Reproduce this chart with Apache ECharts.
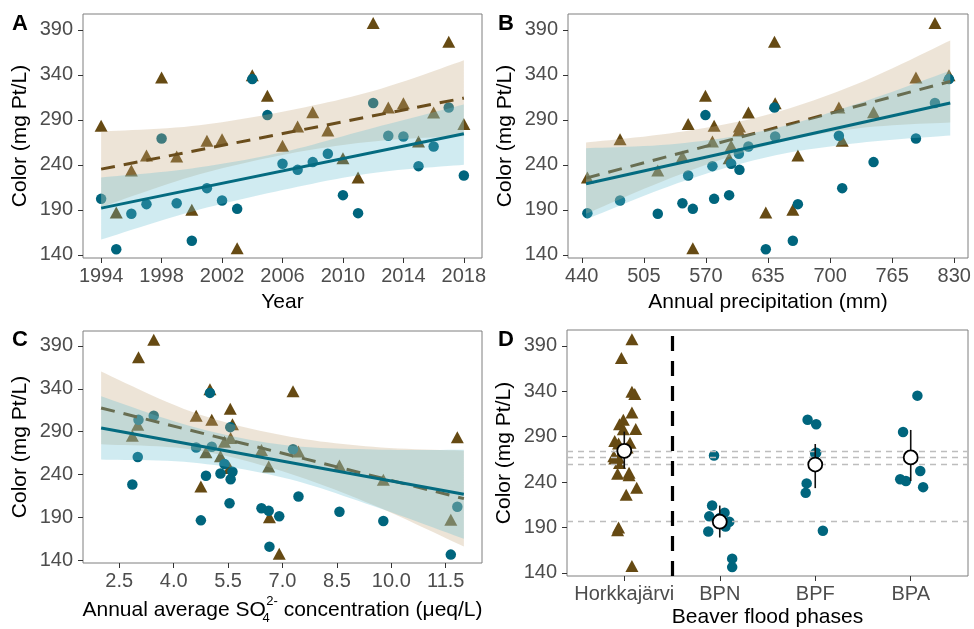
<!DOCTYPE html>
<html>
<head>
<meta charset="utf-8">
<script src="https://cdn.jsdelivr.net/npm/echarts@6/dist/echarts.min.js"></script>
<style>
html, body {margin: 0; padding: 0; background: #fff;}
#main {width: 974px; height: 629px;}
</style>
</head>
<body>
<div id="main"></div>
<script>
// yearly data
var years = [1994, 1995, 1996, 1997, 1998, 1999, 2000, 2001, 2002, 2003, 2004, 2005, 2006,
             2007, 2008, 2009, 2010, 2011, 2012, 2013, 2014, 2015, 2016, 2017, 2018];
var beaverColor = [202.2, 146.3, 185.6, 196.3, 269.3, 197.4, 155.6, 214.1, 200.4, 191.1, 335.2, 295.2, 241.1,
                   234.4, 243.0, 252.2, 206.3, 186.3, 308.6, 272.2, 271.5, 238.5, 260.3, 303.7, 228.1];
var horkColor = [283.3, 187.0, 233.7, 250.3, 337.0, 249.2, 190.0, 266.7, 268.5, 147.4, 339.6, 316.7, 261.1,
                 282.6, 298.5, 278.1, 247.4, 225.9, 397.4, 303.7, 308.5, 265.9, 298.1, 376.7, 285.2];
var precip = [578.6, 632.7, 519.6, 666.3, 789.9, 545.4, 661.0, 712.7, 480.1, 556.3, 824.5, 569.5, 596.4,
              605.1, 745.5, 604.5, 594.3, 445.9, 809.8, 709.2, 642.5, 576.8, 614.5, 641.8, 551.4];
var so4 = [11.82, 11.64, 9.78, 8.57, 7.29, 6.62, 6.64, 7.44, 6.42, 6.91, 5.00, 5.56, 5.29,
           5.57, 5.62, 5.40, 5.54, 4.75, 3.45, 5.05, 4.62, 4.89, 3.01, 3.03, 2.86];

// panel D: jittered positions (1 = Horkkajarvi, 2 = BPN, 3 = BPF, 4 = BPA)
var horkPos = [1.06, 0.93, 1.13, 1.05, 1.11, 0.93, 0.94, 0.94, 0.89, 1.08, 1.08, 1.08, 0.95,
               0.94, 1.12, 1.03, 1.05, 1.02, 1.08, 0.95, 0.99, 0.90, 0.99, 0.97, 0.90];
var beaverPos = [1.89, 2.13, 1.88, 2.10, 1.94, 2.02, 2.13, 1.92, 2.00, 2.06, 4.07, 3.92, 3.95,
                 4.13, 3.89, 4.10, 2.05, 3.08, 2.92, 3.01, 3.00, 2.91, 3.00, 3.01, 2.90];
var phaseNames = ['Horkkajärvi', 'BPN', 'BPF', 'BPA'];
var phaseMean = [274.4, 196.3, 259.3, 267.1];
var phaseLow = [254.9, 178.9, 233.3, 241.1];
var phaseHigh = [295.6, 214.1, 281.9, 297.4];

// fitted lines and confidence bands
var fitXA = [1994, 2018], horkFitA = [235.2, 314.1], beavFitA = [191.9, 274.4];
var bandXA = [1994, 2000, 2006, 2012, 2018];
var horkLoA = [193, 227, 251, 266, 272], horkHiA = [277, 283, 299, 322, 356];
var beavLoA = [157, 188, 212, 231, 240], beavHiA = [226, 236, 254, 281, 307];

var fitXB = [444.5, 825.8], horkFitB = [225.2, 332.6], beavFitB = [218.9, 308.6];
var bandXB = [444.5, 540, 635, 730, 825.8];
var horkLoB = [185.6, 228.1, 261.8, 280.6, 287.1], horkHiB = [264.8, 276.1, 295.8, 330.6, 378.1];
var beavLoB = [179.4, 219.4, 248.8, 264.3, 272.6], beavHiB = [258.4, 263.4, 278.8, 308.3, 344.6];

var fitXC = [2, 12], horkFitC = [317.6, 211.7], beavFitC = [294.3, 216.7];
var bandXC = [2, 4.5, 7, 9.5, 12];
var horkLoC = [275.1, 269.1, 243.6, 204.2, 155.7], horkHiC = [360.1, 313.1, 285.6, 272.2, 267.7];
var beavLoC = [257.3, 253.9, 236.5, 203.1, 164.7], beavHiC = [331.3, 295.9, 274.5, 269.1, 268.7];

// tick labels
var colorTicks = [140, 190, 240, 290, 340, 390];
var yearTicks = [1994, 1998, 2002, 2006, 2010, 2014, 2018];
var precipTicks = [440, 505, 570, 635, 700, 765, 830];
var so4Ticks = [2.5, 4.0, 5.5, 7.0, 8.5, 10.0, 11.5];
var phaseTicks = [1, 2, 3, 4];

var FONT = '"Liberation Sans", Arial, sans-serif';
var TEAL = '#00657d', TEAL_LINE = '#046b80', BROWN = '#664a13', BROWN_LINE = '#6a4d1c';
var BAND_BROWN = 'rgba(200,170,130,0.32)', BAND_BLUE = 'rgba(100,190,210,0.30)';

function pairs(xs, ys) {
    return xs.map(function (x, i) { return [x, ys[i]]; });
}

function xAxisFor(i, min, max, ticks, name, gap, fmt) {
    return {
        type: 'value', gridIndex: i, min: min, max: max,
        name: name, nameLocation: 'middle', nameGap: gap,
        nameTextStyle: {fontSize: 21, color: '#000', fontFamily: FONT},
        axisLine: {show: false},
        axisTick: {show: true, length: 5, lineStyle: {color: '#333'}, customValues: ticks},
        axisLabel: {customValues: ticks, fontSize: 20, color: '#4d4d4d', fontFamily: FONT,
                    margin: 8, formatter: fmt},
        splitLine: {show: false}
    };
}

function yAxisFor(i) {
    return {
        type: 'value', gridIndex: i, min: 136.5, max: 407.5,
        name: 'Color (mg Pt/L)', nameLocation: 'middle', nameGap: 52,
        nameTextStyle: {fontSize: 21, color: '#000', fontFamily: FONT},
        axisLine: {show: false},
        axisTick: {show: true, length: 5, lineStyle: {color: '#333'}, customValues: colorTicks},
        axisLabel: {customValues: colorTicks, fontSize: 20, color: '#4d4d4d', fontFamily: FONT,
                    margin: 10, formatter: function (v) { return String(v); }},
        splitLine: {show: false}
    };
}

function gridAt(left, top, width, height) {
    return {left: left, top: top, width: width, height: height, containLabel: false,
            outerBoundsMode: 'none', show: true, borderColor: '#7f7f7f', borderWidth: 1,
            backgroundColor: 'transparent'};
}

function scatter(i, xs, ys, shape, color, size) {
    return {type: 'scatter', xAxisIndex: i, yAxisIndex: i, z: 1, silent: true,
            symbol: shape, symbolSize: size, itemStyle: {color: color, opacity: 1},
            data: pairs(xs, ys)};
}

// smooth curve through pixel points (Catmull-Rom drawn as sampled bezier)
function smoothPts(p) {
    var out = [p[0]];
    for (var k = 0; k < p.length - 1; k++) {
        var p0 = p[Math.max(k - 1, 0)], p1 = p[k], p2 = p[k + 1], p3 = p[Math.min(k + 2, p.length - 1)];
        var c1 = [p1[0] + (p2[0] - p0[0]) / 6, p1[1] + (p2[1] - p0[1]) / 6];
        var c2 = [p2[0] - (p3[0] - p1[0]) / 6, p2[1] - (p3[1] - p1[1]) / 6];
        for (var s = 1; s <= 12; s++) {
            var t = s / 12, u = 1 - t;
            out.push([
                u * u * u * p1[0] + 3 * u * u * t * c1[0] + 3 * u * t * t * c2[0] + t * t * t * p2[0],
                u * u * u * p1[1] + 3 * u * u * t * c1[1] + 3 * u * t * t * c2[1] + t * t * t * p2[1]
            ]);
        }
    }
    return out;
}

function band(i, xs, lo, hi, color, z) {
    return {type: 'custom', xAxisIndex: i, yAxisIndex: i, z: z, silent: true,
        data: [[xs[0], lo[0]]],
        renderItem: function (params, api) {
            var up = xs.map(function (x, k) { return api.coord([x, hi[k]]); });
            var dn = xs.map(function (x, k) { return api.coord([x, lo[k]]); }).reverse();
            var pts = smoothPts(up).concat(smoothPts(dn));
            return {type: 'polygon', shape: {points: pts}, style: {fill: color, stroke: null}};
        }};
}

function fit(i, xs, ys, color, dash, z) {
    return {type: 'line', xAxisIndex: i, yAxisIndex: i, z: z, silent: true, symbol: 'none',
            lineStyle: {color: color, width: 3, type: dash ? [14, 9] : 'solid'},
            data: pairs(xs, ys)};
}

function panel(i, xs, lineX, bands, fits) {
    return [
        scatter(i, xs, horkColor, 'triangle', BROWN, [13, 12]),
        scatter(i, xs, beaverColor, 'circle', TEAL, 10.5),
        band(i, bands.x, bands.hLo, bands.hHi, BAND_BROWN, 2),
        fit(i, lineX, fits.h, BROWN_LINE, true, 3),
        band(i, bands.x, bands.bLo, bands.bHi, BAND_BLUE, 4),
        fit(i, lineX, fits.b, TEAL_LINE, false, 5)
    ];
}

var series = [];
series = series.concat(panel(0, years, fitXA,
    {x: bandXA, hLo: horkLoA, hHi: horkHiA, bLo: beavLoA, bHi: beavHiA}, {h: horkFitA, b: beavFitA}));
series = series.concat(panel(1, precip, fitXB,
    {x: bandXB, hLo: horkLoB, hHi: horkHiB, bLo: beavLoB, bHi: beavHiB}, {h: horkFitB, b: beavFitB}));
series = series.concat(panel(2, so4, fitXC,
    {x: bandXC, hLo: horkLoC, hHi: horkHiC, bLo: beavLoC, bHi: beavHiC}, {h: horkFitC, b: beavFitC}));

// panel D
var dTri = scatter(3, horkPos, horkColor, 'triangle', BROWN, [13, 12]);
dTri.z = 2;
var meanLines = phaseMean.map(function (v) { return {yAxis: v}; });
meanLines.push({xAxis: 1.5, lineStyle: {color: '#000', width: 3.2, type: [15, 10]}});
var dMarks = {type: 'scatter', xAxisIndex: 3, yAxisIndex: 3, z: 1, silent: true, data: [],
    markLine: {silent: true, symbol: ['none', 'none'], label: {show: false},
               lineStyle: {color: '#bdbdbd', width: 1.3, type: [6, 5]}, data: meanLines}};
var dCirc = scatter(3, beaverPos, beaverColor, 'circle', TEAL, 10.5);
dCirc.z = 2;
var dErr = {type: 'custom', xAxisIndex: 3, yAxisIndex: 3, z: 6, silent: true,
    encode: {x: 0, y: [1, 2]},
    data: phaseTicks.map(function (p, k) { return [p, phaseLow[k], phaseHigh[k]]; }),
    renderItem: function (params, api) {
        var a = api.coord([api.value(0), api.value(1)]);
        var b = api.coord([api.value(0), api.value(2)]);
        return {type: 'line', shape: {x1: a[0], y1: a[1], x2: b[0], y2: b[1]},
                style: {stroke: '#111', lineWidth: 1.6}};
    }};
var dMean = {type: 'scatter', xAxisIndex: 3, yAxisIndex: 3, z: 7, silent: true,
    symbol: 'circle', symbolSize: 14,
    itemStyle: {color: '#fff', borderColor: '#000', borderWidth: 1.8, opacity: 1},
    data: pairs(phaseTicks, phaseMean)};
series.push(dMarks, dTri, dCirc, dErr, dMean);

var option = {
    animation: false,
    backgroundColor: '#fff',
    textStyle: {fontFamily: FONT},
    grid: [
        gridAt(83, 14, 399, 244),
        gridAt(568, 14, 400, 244),
        gridAt(83, 331, 399, 232),
        gridAt(567, 330, 401, 246)
    ],
    xAxis: [
        xAxisFor(0, 1992.8, 2019.2, yearTicks, 'Year', 34, function (v) { return String(v); }),
        xAxisFor(1, 425.6, 844.4, precipTicks, 'Annual precipitation (mm)', 34,
                 function (v) { return String(v); }),
        xAxisFor(2, 1.5, 12.5, so4Ticks,
                 'Annual average SO{sub|4}{sup|2-} concentration (μeq/L)', 32,
                 function (v) { return v.toFixed(1); }),
        xAxisFor(3, 0.4, 4.6, phaseTicks, 'Beaver flood phases', 31,
                 function (v) { return phaseNames[Math.round(v) - 1]; })
    ],
    yAxis: [yAxisFor(0), yAxisFor(1), yAxisFor(2), yAxisFor(3)],
    graphic: [
        {type: 'text', left: 12, top: 13, style: {text: 'A', font: 'bold 22px ' + FONT, fill: '#000'}},
        {type: 'text', left: 498, top: 13, style: {text: 'B', font: 'bold 22px ' + FONT, fill: '#000'}},
        {type: 'text', left: 12, top: 329, style: {text: 'C', font: 'bold 22px ' + FONT, fill: '#000'}},
        {type: 'text', left: 498, top: 329, style: {text: 'D', font: 'bold 22px ' + FONT, fill: '#000'}}
    ],
    series: series
};

// sub/superscript for the sulfate axis title
option.xAxis[2].nameTextStyle.lineHeight = 30;
option.xAxis[2].nameTextStyle.rich = {
    sub: {fontSize: 13, lineHeight: 13, verticalAlign: 'bottom', width: 0.5, color: '#000', fontFamily: FONT},
    sup: {fontSize: 13, lineHeight: 13, verticalAlign: 'top', color: '#000', fontFamily: FONT}
};

var chart = echarts.init(document.getElementById('main'), null, {renderer: 'canvas'});
chart.setOption(option);
</script>
</body>
</html>
